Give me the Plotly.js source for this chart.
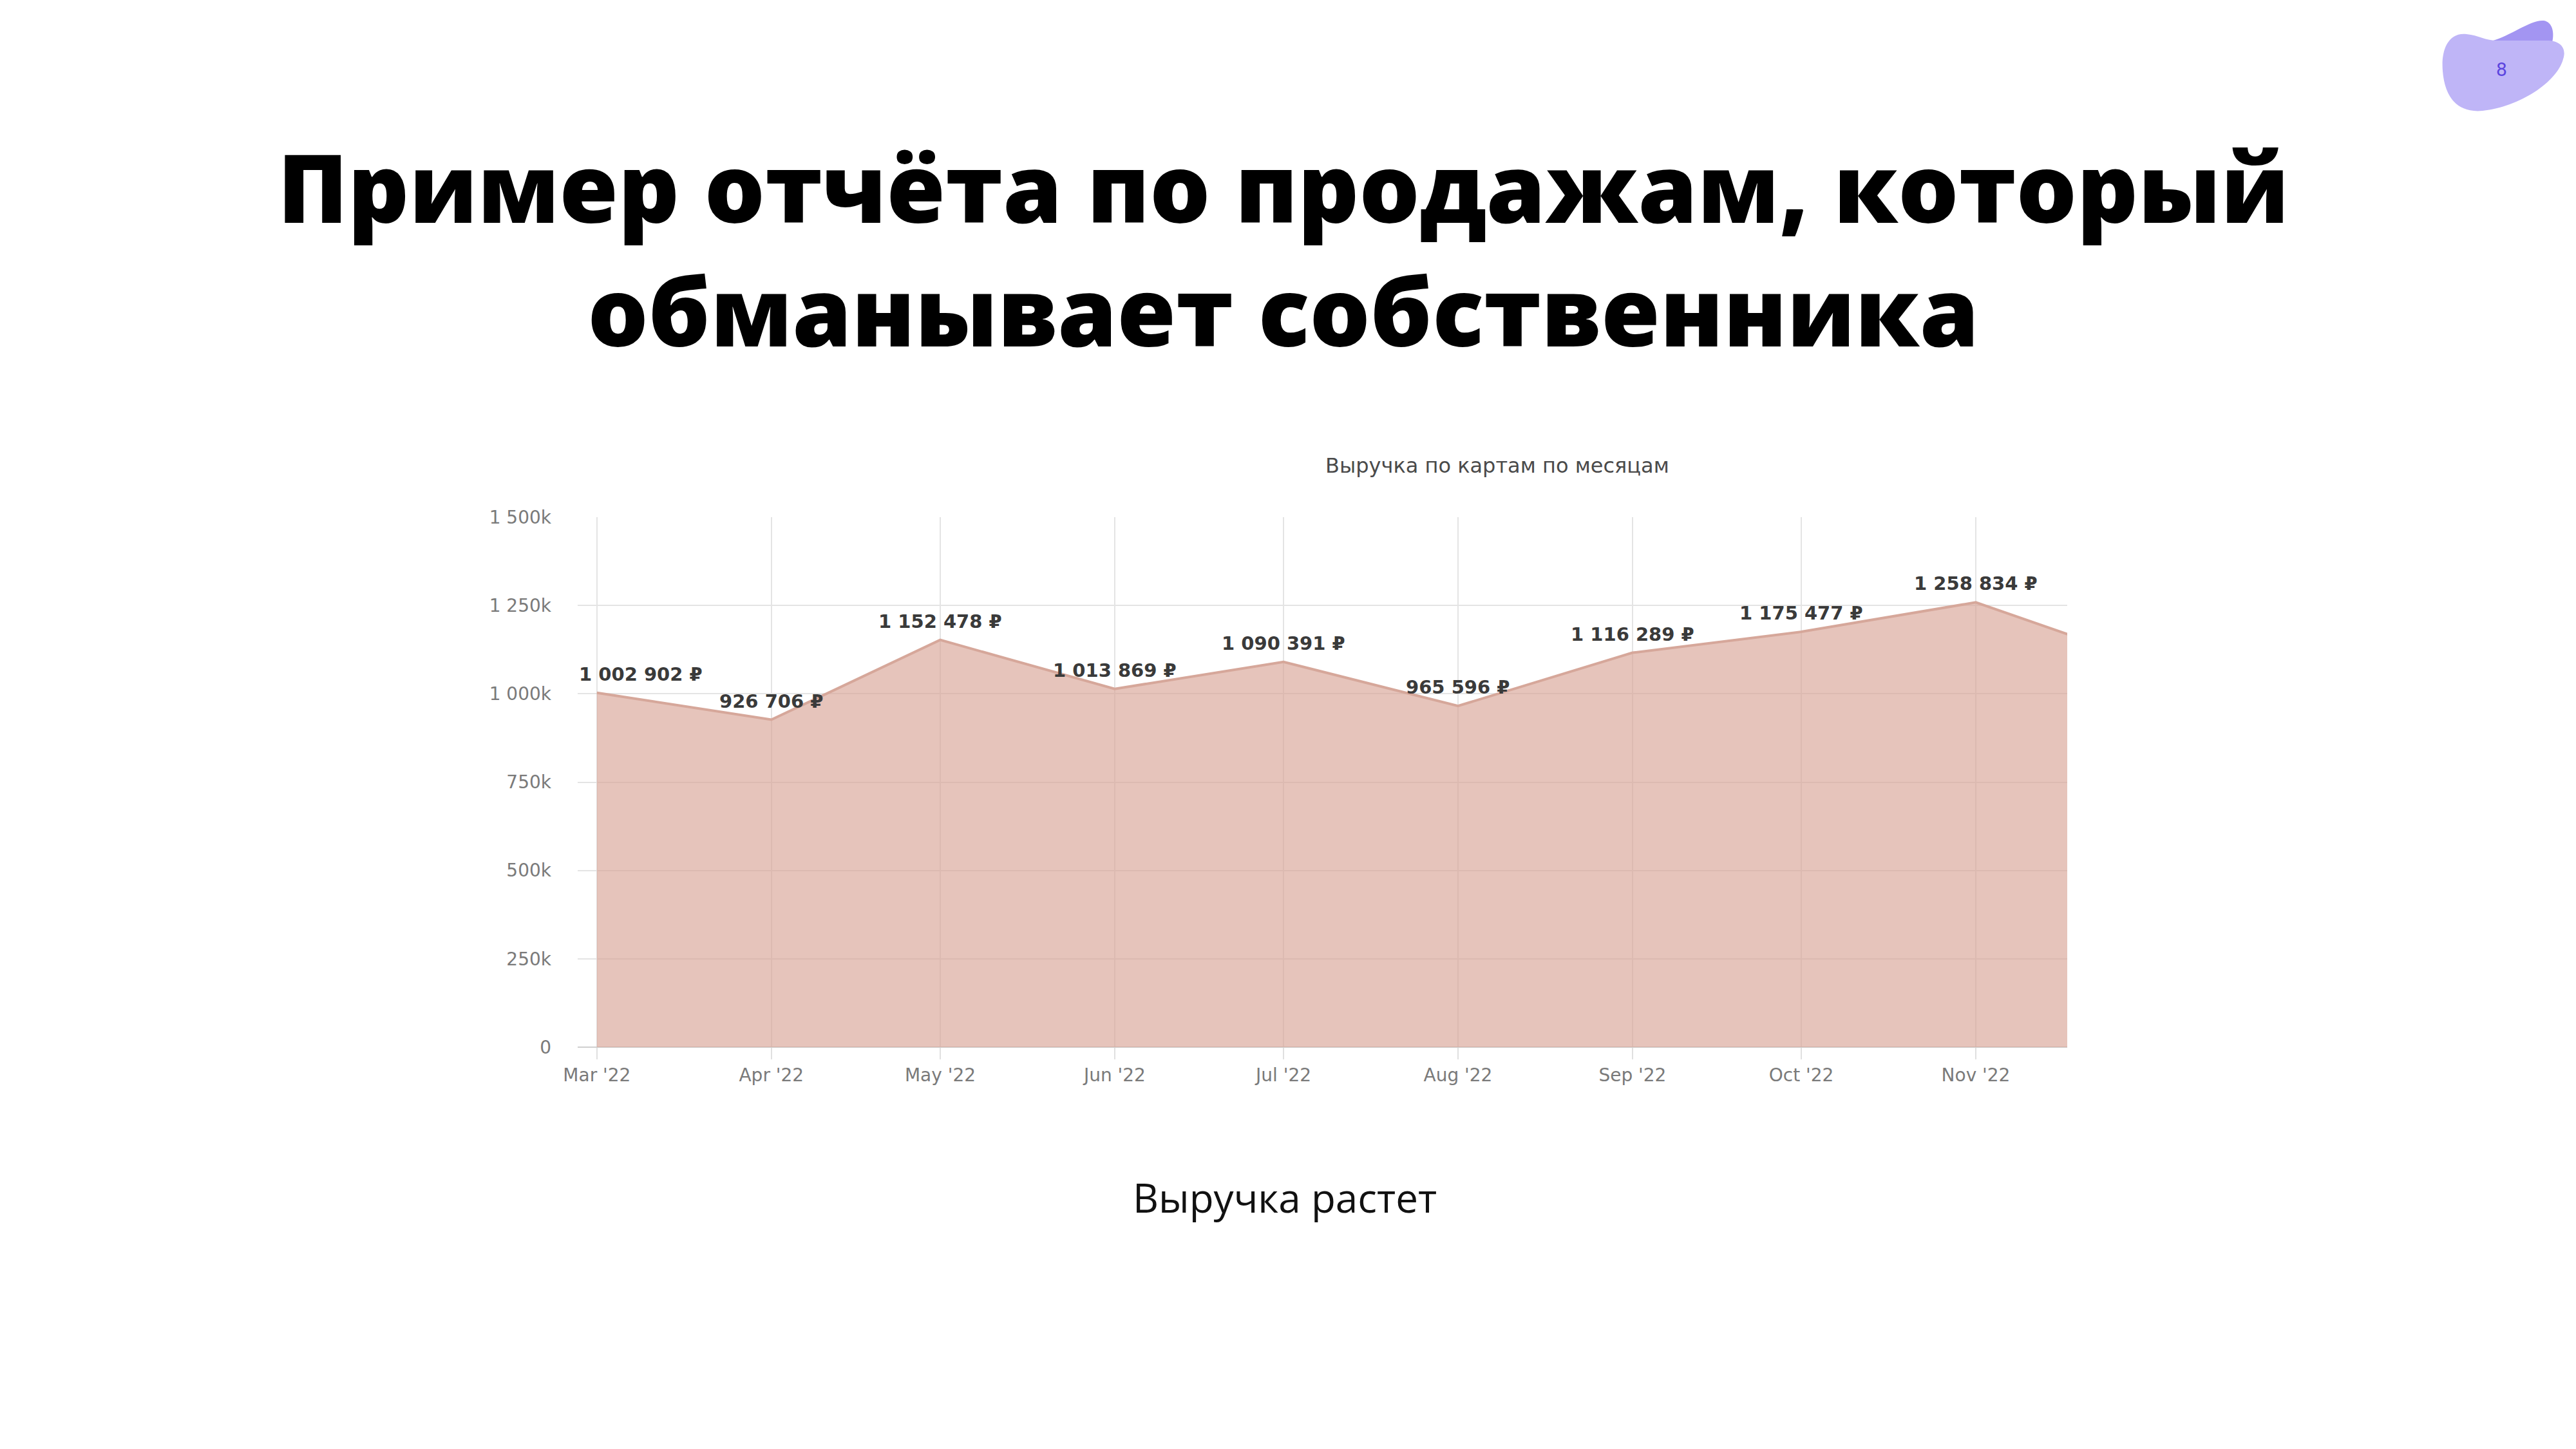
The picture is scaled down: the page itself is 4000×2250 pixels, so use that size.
<!DOCTYPE html>
<html>
<head>
<meta charset="utf-8">
<script src="https://cdn.plot.ly/plotly-3.0.1.min.js"></script>
<style>
  html, body { margin: 0; padding: 0; background: #ffffff; }
  #slide { width: 4000px; height: 2250px; }
</style>
</head>
<body>
<div id="slide"></div>
<script>
// monthly card revenue (the last month is only partly visible on the right edge)
const months = ['2022-03-01', '2022-04-01', '2022-05-01', '2022-06-01', '2022-07-01',
                '2022-08-01', '2022-09-01', '2022-10-01', '2022-11-01', '2022-12-01'];
const revenue = [1002902, 926706, 1152478, 1013869, 1090391,
                 965596, 1116289, 1175477, 1258834, 1093000];
const labelled = [true, true, true, true, true, true, true, true, true, false];

const yTickVals = [0, 250000, 500000, 750000, 1000000, 1250000, 1500000];
const yTickText = ['0', '250k', '500k', '750k', '1 000k', '1 250k', '1 500k'];
const xTickVals = months.slice(0, 9);

const slideTitle = ['Пример отчёта по продажам, который', 'обманывает собственника'];
const chartTitle = 'Выручка по картам по месяцам';
const caption = 'Выручка растет';
const pageNumber = '8';

// plot box in page pixels
const PLOT = { left: 897, right: 3210, top: 803, bottom: 1626 };
const W = 4000, H = 2250;

const px = (x) => (x - PLOT.left) / (PLOT.right - PLOT.left);
const py = (y) => (PLOT.bottom - y) / (PLOT.bottom - PLOT.top);

function fmtRub(v) {
    return String(v).replace(/\B(?=(\d{3})+(?!\d))/g, ' ') + ' ₽';
}

// turn a pixel path into paper coordinates
function paperPath(cmds) {
    return cmds.map(c => {
        if (typeof c === 'string') return c;
        return px(c[0]).toFixed(5) + ',' + py(c[1]).toFixed(5);
    }).join(' ');
}

const traces = [{
    type: 'scatter',
    mode: 'lines',
    x: months,
    y: revenue,
    fill: 'tozeroy',
    fillcolor: 'rgba(214,160,145,0.62)',
    line: { color: '#d6a79a', width: 4 },
    hoverinfo: 'skip',
    showlegend: false,
}];

const annotations = [];

// value labels above the points
months.forEach((m, i) => {
    if (!labelled[i]) return;
    const first = i === 0;
    annotations.push({
        xref: first ? 'paper' : 'x',
        yref: 'y',
        x: first ? 0 : m,
        y: revenue[i],
        xanchor: first ? 'left' : 'center',
        yanchor: 'middle',
        yshift: 29,
        showarrow: false,
        text: '<b>' + fmtRub(revenue[i]) + '</b>',
        font: { family: 'DejaVu Sans, sans-serif', size: 29, color: '#3a3a3a' },
    });
});

// slide title as one two-line block
annotations.push(
    {
        xref: 'paper', yref: 'paper', x: px(1992), y: py(384),
        xanchor: 'center', yanchor: 'middle', align: 'center', showarrow: false,
        text: slideTitle.join('<br>'),
        font: { family: 'Open Sans, sans-serif', size: 148, weight: 800, color: '#000000' },
    },
    {
        xref: 'paper', yref: 'paper', x: px(2325), y: py(723),
        xanchor: 'center', yanchor: 'middle', showarrow: false,
        text: chartTitle,
        font: { family: 'DejaVu Sans, sans-serif', size: 32, color: '#4a4a4a' },
    },
    {
        xref: 'paper', yref: 'paper', x: px(1995), y: py(1859),
        xanchor: 'center', yanchor: 'middle', showarrow: false,
        text: caption,
        font: { family: 'Open Sans, sans-serif', size: 62, color: '#111111' },
    },
    {
        xref: 'paper', yref: 'paper', x: px(3884), y: py(107),
        xanchor: 'center', yanchor: 'middle', showarrow: false,
        text: pageNumber,
        font: { family: 'Roboto, sans-serif', size: 30, color: '#5b44df' },
    }
);

// page-number blob, top right corner
const shapes = [
    {
        type: 'path', xref: 'paper', yref: 'paper', layer: 'above',
        path: paperPath(['M', [3868, 64], 'C', [3900, 55], [3930, 30], [3950, 32],
                         'C', [3963, 34], [3967, 50], [3963, 66], 'Z']),
        fillcolor: '#a395f2', line: { width: 0 },
    },
    {
        type: 'path', xref: 'paper', yref: 'paper', layer: 'above',
        path: paperPath(['M', [3793, 110], 'C', [3790, 72], [3805, 50], [3830, 53],
                         'C', [3850, 55], [3860, 64], [3882, 63],
                         'L', [3955, 63], 'C', [3975, 63], [3986, 74], [3980, 92],
                         'C', [3970, 128], [3912, 166], [3855, 172],
                         'C', [3815, 176], [3796, 150], [3793, 110], 'Z']),
        fillcolor: '#bfb5f7', line: { width: 0 },
    },
];

const layout = {
    width: W,
    height: H,
    margin: { l: PLOT.left, r: W - PLOT.right, t: PLOT.top, b: H - PLOT.bottom, pad: 0 },
    paper_bgcolor: '#ffffff',
    plot_bgcolor: '#ffffff',
    showlegend: false,
    xaxis: {
        type: 'date',
        range: ['2022-02-25 14:00', '2022-11-17 06:00'],
        tickvals: xTickVals,
        tickformat: "%b '%y",
        showgrid: true,
        gridcolor: '#e4e4e4',
        gridwidth: 2,
        ticks: 'outside',
        ticklen: 18,
        tickwidth: 2,
        tickcolor: '#e0e0e0',
        showline: false,
        zeroline: false,
        tickfont: { family: 'DejaVu Sans, sans-serif', size: 28, color: '#7a7a7a' },
    },
    yaxis: {
        range: [0, 1500000],
        tickvals: yTickVals,
        ticktext: yTickText,
        showgrid: true,
        gridcolor: '#e4e4e4',
        gridwidth: 2,
        zeroline: true,
        zerolinecolor: '#cfcfcf',
        zerolinewidth: 2,
        ticks: '',
        ticklabelstandoff: 40,
        tickfont: { family: 'DejaVu Sans, sans-serif', size: 28, color: '#7a7a7a' },
    },
    annotations,
    shapes,
};

Plotly.newPlot('slide', traces, layout, { displayModeBar: false, staticPlot: true });
</script>
</body>
</html>
